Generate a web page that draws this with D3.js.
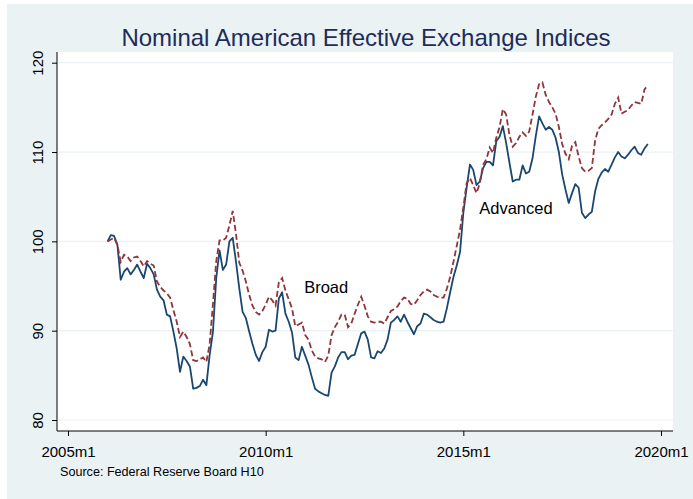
<!DOCTYPE html>
<html>
<head>
<meta charset="utf-8">
<script src="https://cdn.jsdelivr.net/npm/d3@7"></script>
<style>
  body { margin: 0; background: #fff; }
  svg { display: block; font-family: "Liberation Sans", Arial, sans-serif; }
</style>
</head>
<body>
<svg id="chart"></svg>
<script>
// monthly index values, 2006m1 = 100, running 2006m1 .. 2019m9
const startYear = 2006;
const broad = [
  100.0, 100.2, 100.4, 99.6, 97.7, 98.5, 98.3, 97.8, 98.2, 98.3, 97.8, 97.2,
  97.8, 97.5, 97.3, 95.5, 94.9, 94.5, 94.2, 93.7, 92.3, 91.0, 89.3, 89.9,
  89.3, 88.5, 86.7, 86.6, 86.8, 87.0, 86.5, 88.5, 93.0, 97.8, 100.1, 100.1,
  100.4, 101.8, 103.4, 100.8, 97.6, 96.7, 95.5, 94.0, 92.8, 92.1, 91.8, 92.2,
  92.9, 93.8, 93.4, 92.8, 95.4, 95.9, 94.5, 93.5, 92.5, 90.5, 90.7, 90.9,
  89.5, 89.0, 87.8, 87.1, 86.9, 86.8, 86.5, 87.2, 89.5, 90.4, 91.0, 91.8,
  91.8, 90.4, 90.8, 91.9, 92.9, 93.8, 92.8, 91.6, 91.0, 90.9, 91.0, 91.0,
  90.8, 91.5, 92.2, 92.4, 92.7, 93.3, 93.7, 93.6, 93.0, 92.9, 93.4, 94.0,
  94.4, 94.6, 94.4, 94.0, 93.8, 93.7, 93.7, 94.7, 96.0, 97.7, 99.5, 101.3,
  103.8, 106.5, 107.1, 106.3, 105.4, 106.5, 108.6, 109.2, 110.5, 109.9, 111.6, 112.8,
  114.8, 114.2, 111.9, 110.6, 111.0, 111.7, 112.2, 111.8, 112.3, 114.2, 116.2, 117.6,
  117.8, 116.4, 115.6, 115.0, 114.3, 112.8, 110.9, 109.8, 109.2, 110.7, 111.1, 109.5,
  108.2, 107.8, 107.9, 108.2, 111.3, 112.6, 113.0, 113.3, 113.7, 114.2, 115.4, 116.1,
  114.3, 114.5, 114.7, 115.2, 115.6, 115.5, 115.4, 117.0, 117.5
];
const advanced = [
  100.0, 100.7, 100.6, 99.6, 95.7, 96.6, 97.0, 96.3, 96.8, 97.4, 96.6, 95.9,
  97.5, 97.0, 96.3, 94.6, 93.8, 93.4, 91.8, 91.6, 89.9, 88.0, 85.4, 87.1,
  86.6, 86.0, 83.5, 83.6, 83.8, 84.5, 83.9, 87.3, 89.9, 95.9, 99.0, 96.8,
  97.4, 100.0, 100.4, 97.7, 94.7, 92.1, 91.4, 89.9, 88.5, 87.3, 86.6, 87.6,
  88.2, 90.1, 89.9, 90.0, 93.6, 94.3, 91.9, 91.0, 89.8, 87.0, 86.7, 88.2,
  87.2, 86.2, 84.8, 83.5, 83.2, 83.0, 82.8, 82.7, 85.3, 86.0, 87.0, 87.6,
  87.6, 86.8, 87.2, 87.3, 88.5, 89.7, 89.9, 89.0, 87.0, 86.9, 87.7, 87.5,
  88.0, 89.0, 90.9, 91.2, 91.6, 91.0, 91.8, 91.0, 90.3, 89.6, 90.5, 90.8,
  91.9, 91.8, 91.5, 91.2, 91.0, 90.9, 91.0, 92.5, 94.3, 96.0, 97.3, 98.8,
  103.2, 106.0, 108.6, 108.0, 106.3, 106.7, 108.2, 108.9, 108.9, 108.5, 111.2, 111.7,
  112.9, 111.0, 108.8, 106.7, 106.9, 106.9, 108.5, 107.6, 107.8, 109.3, 111.8, 114.0,
  113.2, 112.5, 112.8, 112.5, 111.6, 110.0, 107.5, 105.8, 104.3, 105.4, 106.4, 106.0,
  103.2, 102.6, 103.0, 103.3, 105.6, 107.0, 107.7, 108.1, 107.8, 108.6, 109.4, 110.0,
  109.5, 109.3, 109.7, 110.2, 110.6, 109.9, 109.7, 110.4, 110.9
];
const xTicks = [2005, 2010, 2015, 2020];
const yTicks = [80, 90, 100, 110, 120];

var w = 693;
var h = 499;
var svg = d3.select("#chart")
  .attr("width", w)
  .attr("height", h);

// outer graph region (Stata s2color style)
svg.append("rect")
  .attr("x", 7).attr("y", 4)
  .attr("width", w - 7).attr("height", h - 4)
  .attr("fill", "#eaf2f3");

var plot = { left: 57, right: 673, top: 52, bottom: 431 };
svg.append("rect")
  .attr("x", plot.left).attr("y", plot.top)
  .attr("width", plot.right - plot.left).attr("height", plot.bottom - plot.top)
  .attr("fill", "#fff");

var x = d3.scaleLinear().domain([2005, 2020]).range([68, 661]);
var y = d3.scaleLinear().domain([80, 120]).range([420, 62.7]);

// gridlines
svg.selectAll(".grid")
  .data(yTicks)
  .enter()
  .append("line")
  .attr("class", "grid")
  .attr("x1", plot.left + 1).attr("x2", plot.right)
  .attr("y1", (d) => y(d)).attr("y2", (d) => y(d))
  .attr("stroke", "#eaf2f3")
  .attr("stroke-width", 1.2);

// axes
var yAxis = svg.append("g")
  .attr("transform", "translate(" + plot.left + ",0)")
  .call(d3.axisLeft(y).tickValues(yTicks).tickSize(5).tickSizeOuter(0));
yAxis.select(".domain").remove();
yAxis.append("line")
  .attr("x1", 0).attr("x2", 0)
  .attr("y1", plot.top).attr("y2", plot.bottom)
  .attr("stroke", "#000");
yAxis.selectAll(".tick text")
  .attr("transform", "rotate(-90)")
  .attr("x", 0)
  .attr("y", -14)
  .attr("dy", 0)
  .style("text-anchor", "middle");

var xAxis = svg.append("g")
  .attr("transform", "translate(0," + plot.bottom + ")")
  .call(d3.axisBottom(x).tickValues(xTicks).tickSize(5).tickSizeOuter(0)
    .tickFormat((d) => d + "m1").tickPadding(10));
xAxis.select(".domain").remove();
xAxis.append("line")
  .attr("x1", plot.left).attr("x2", plot.right)
  .attr("y1", 0).attr("y2", 0)
  .attr("stroke", "#000");

svg.selectAll(".tick text")
  .style("font-size", "15px")
  .style("font-family", "'Liberation Sans', Arial, sans-serif")
  .attr("fill", "#000");
svg.selectAll(".tick line").attr("stroke", "#000");

// series
var t = (i) => startYear + i / 12;
var line = d3.line()
  .x((d, i) => x(t(i)))
  .y((d) => y(d));

svg.append("path")
  .datum(advanced)
  .attr("fill", "none")
  .attr("stroke", "#1a476f")
  .attr("stroke-width", 1.8)
  .attr("stroke-linejoin", "round")
  .attr("d", line);

svg.append("path")
  .datum(broad)
  .attr("fill", "none")
  .attr("stroke", "#90353b")
  .attr("stroke-width", 1.8)
  .attr("stroke-dasharray", "6,3")
  .attr("d", line);

// labels on the plot
svg.append("text")
  .attr("x", x(2011.53)).attr("y", y(94.25))
  .attr("text-anchor", "middle")
  .style("font-size", "16.5px")
  .text("Broad");
svg.append("text")
  .attr("x", x(2016.33)).attr("y", y(103.05))
  .attr("text-anchor", "middle")
  .style("font-size", "16.5px")
  .text("Advanced");

// title and note
svg.append("text")
  .attr("x", 366).attr("y", 46)
  .attr("text-anchor", "middle")
  .attr("fill", "#1e2c5a")
  .style("font-size", "24px")
  .text("Nominal American Effective Exchange Indices");
svg.append("text")
  .attr("x", 60).attr("y", 476)
  .style("font-size", "12.6px")
  .text("Source: Federal Reserve Board H10");
</script>
</body>
</html>
